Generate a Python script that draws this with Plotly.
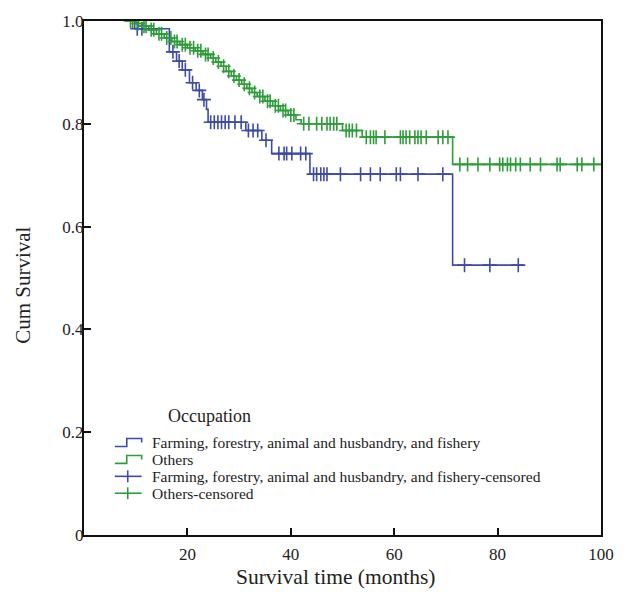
import numpy as np
import plotly.graph_objects as go

# Kaplan-Meier step data (time in months, cumulative survival)
farm_time = [8.8, 9.8, 16.5, 17.9, 19.0, 20.4, 21.7, 22.9, 23.7, 24.0, 31.3, 34.4, 36.3, 43.7, 71.3, 85.0]
farm_surv = [1.0, 0.985, 0.94, 0.922, 0.905, 0.88, 0.865, 0.847, 0.828, 0.803, 0.787, 0.768, 0.742, 0.702, 0.525, 0.525]
farm_censored = [10.3, 11.2, 17.2, 18.4, 19.6, 21.0, 22.3, 23.2, 24.5, 25.2, 25.9, 26.6, 27.3, 28.0, 29.2, 30.4,
                 31.8, 32.7, 33.6, 35.2, 37.7, 38.7, 39.2, 40.2, 41.9, 42.9, 44.4, 45.0, 45.8, 46.4, 47.0, 49.6,
                 53.5, 55.4, 57.3, 60.4, 61.2, 64.6, 69.4, 73.6, 78.5, 84.0]

other_time = [8.8, 10.0, 11.2, 12.5, 14.0, 15.5, 17.0, 18.5, 20.0, 21.5, 23.0, 24.5, 25.5, 26.5, 27.5, 28.5,
              29.5, 30.5, 31.5, 32.5, 33.5, 35.0, 36.5, 38.0, 39.5, 41.0, 42.0, 50.0, 53.8, 71.3, 100.0]
other_surv = [1.0, 0.995, 0.99, 0.983, 0.975, 0.967, 0.96, 0.954, 0.948, 0.942, 0.935, 0.928, 0.92, 0.912,
              0.902, 0.893, 0.885, 0.877, 0.869, 0.861, 0.853, 0.844, 0.835, 0.826, 0.817, 0.808, 0.80, 0.787,
              0.774, 0.721, 0.721]
other_censored = [9.0, 9.4, 10.5, 11.6, 12.0, 13.0, 13.5, 14.5, 15.0, 16.0, 16.8, 17.5, 18.0, 19.0, 19.6, 20.5,
                  21.2, 22.0, 22.6, 23.5, 24.0, 25.0, 26.0, 27.0, 28.0, 29.0, 30.0, 31.0, 32.0, 33.0, 34.0,
                  34.6, 35.5, 36.0, 37.0, 37.6, 38.5, 39.0, 40.0, 40.6, 42.5, 43.5, 45.0, 46.0, 47.0, 47.6,
                  48.3, 48.9, 50.7, 51.3, 51.9, 52.7, 54.6, 55.4, 56.0, 56.5, 58.2, 61.2, 61.7, 62.3, 63.0,
                  64.0, 64.6, 65.2, 66.2, 68.5, 69.4, 70.4, 72.7, 74.2, 76.2, 78.5, 80.4, 81.0, 81.9, 82.5,
                  83.5, 84.4, 86.3, 88.3, 91.5, 92.1, 95.4, 96.3, 98.6]

group_names = ["Farming, forestry, animal and husbandry, and fishery", "Others"]
legend_title = "Occupation"
x_ticks = [20, 40, 60, 80, 100]
y_ticks = [0, 0.2, 0.4, 0.6, 0.8, 1.0]
y_tick_text = ["0", "0.2", "0.4", "0.6", "0.8", "1.0"]

BLUE = "#3d4ba3"
GREEN = "#2f9c3a"
INK = "#222"
FONT = "Liberation Serif, Times New Roman, serif"

# plot area in pixels
W, H = 626, 592
L, R, T, B = 84, 22, 18, 57
PW, PH = W - L - R, H - T - B


def px_x(px):
    return (px - L) / PW


def px_y(py):
    return (H - B - py) / PH


def step_value(times, surv, t):
    """Survival value of a right-continuous step curve at time t."""
    idx = np.searchsorted(np.asarray(times), np.asarray(t), side="right") - 1
    idx = np.clip(idx, 0, len(surv) - 1)
    return np.asarray(surv)[idx]


fig = go.Figure()

curves = [
    (farm_time, farm_surv, farm_censored, BLUE, group_names[0]),
    (other_time, other_surv, other_censored, GREEN, group_names[1]),
]
for times, surv, cens, color, name in curves:
    fig.add_trace(go.Scatter(
        x=times, y=surv, mode="lines", line=dict(color=color, width=1.6, shape="hv"),
        name=name, showlegend=False))
for times, surv, cens, color, name in curves:
    fig.add_trace(go.Scatter(
        x=cens, y=step_value(times, surv, cens), mode="markers",
        marker=dict(symbol="cross-thin", size=10, line=dict(color=color, width=1.6)),
        name=name + "-censored", showlegend=False))

axis_common = dict(
    showline=True, linecolor="#111", linewidth=2, mirror=True,
    ticks="inside", ticklen=7, tickwidth=2, tickcolor="#111",
    showgrid=False, zeroline=False,
    tickfont=dict(family=FONT, size=17, color=INK),
)

fig.update_xaxes(range=[0, 100], tickvals=x_ticks, ticktext=[str(v) for v in x_ticks],
                 ticklabelstandoff=3, **axis_common)
fig.update_yaxes(range=[0, 1.0], tickvals=y_ticks, ticktext=y_tick_text,
                 ticklabelstandoff=-5, **axis_common)

# axis titles
fig.add_annotation(text="Survival time (months)", xref="paper", yref="paper",
                   x=px_x(337), y=px_y(577), xanchor="center", yanchor="middle",
                   showarrow=False, font=dict(family=FONT, size=21.5, color=INK))
fig.add_annotation(text="Cum Survival", xref="paper", yref="paper", textangle=-90,
                   x=px_x(23), y=px_y(284), xanchor="center", yanchor="middle",
                   showarrow=False, font=dict(family=FONT, size=21, color=INK))

# legend block
fig.add_annotation(text=legend_title, xref="paper", yref="paper",
                   x=px_x(166), y=px_y(415), xanchor="left", yanchor="middle",
                   showarrow=False, font=dict(family=FONT, size=18, color=INK))

legend_rows = [
    ("step", BLUE, group_names[0]),
    ("step", GREEN, group_names[1]),
    ("cens", BLUE, group_names[0] + "-censored"),
    ("cens", GREEN, group_names[1] + "-censored"),
]
row_y = [442, 459, 476, 493]
for (kind, color, label), cy in zip(legend_rows, row_y):
    if kind == "step":
        path = (f"M{px_x(115)},{px_y(cy + 4)} L{px_x(127)},{px_y(cy + 4)} "
                f"L{px_x(127)},{px_y(cy - 4)} L{px_x(142)},{px_y(cy - 4)} L{px_x(142)},{px_y(cy)}")
        fig.add_shape(type="path", path=path, xref="paper", yref="paper",
                      line=dict(color=color, width=1.6))
    else:
        fig.add_shape(type="line", xref="paper", yref="paper",
                      x0=px_x(115), x1=px_x(142), y0=px_y(cy), y1=px_y(cy),
                      line=dict(color=color, width=1.6))
        fig.add_shape(type="line", xref="paper", yref="paper",
                      x0=px_x(128), x1=px_x(128), y0=px_y(cy - 6), y1=px_y(cy + 6),
                      line=dict(color=color, width=1.6))
    fig.add_annotation(text=label, xref="paper", yref="paper",
                       x=px_x(150), y=px_y(cy), xanchor="left", yanchor="middle",
                       showarrow=False, font=dict(family=FONT, size=15.5, color=INK))

fig.update_layout(
    width=W, height=H,
    margin=dict(l=L, r=R, t=T, b=B),
    paper_bgcolor="white", plot_bgcolor="white",
    showlegend=False,
)

fig.write_html("out.html")
